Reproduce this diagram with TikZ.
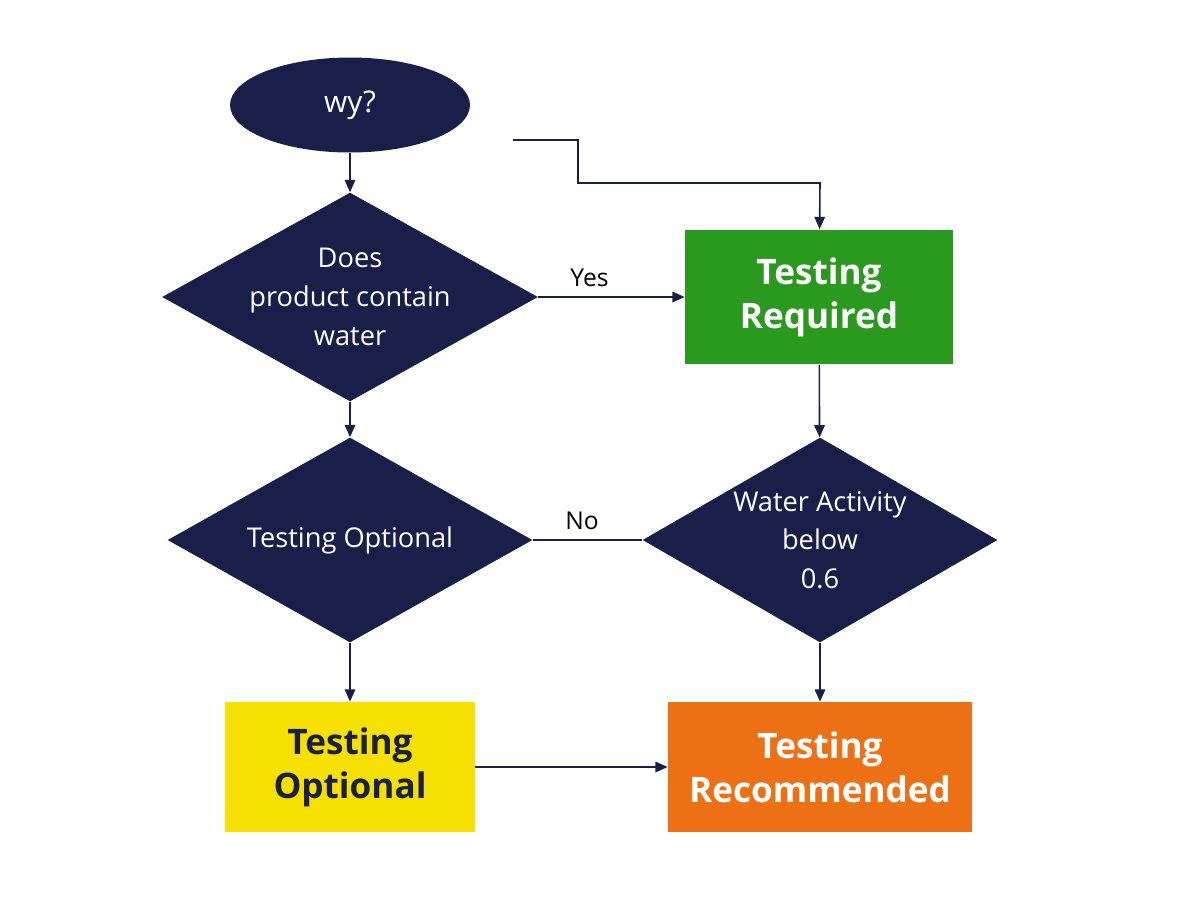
\documentclass[tikz,border=0pt]{standalone}
\usepackage{fontspec}
\setmainfont{Open Sans}
\usetikzlibrary{shapes.geometric}
\usetikzlibrary{arrows.meta}
\definecolor{navy}{HTML}{1A1F4A}
\definecolor{grn}{HTML}{2A9A1E}
\definecolor{yel}{HTML}{F5E000}
\definecolor{org}{HTML}{EE7014}
\tikzset{>={Triangle[length=7pt,width=6pt]}}
\tikzset{dec/.style={diamond, fill=navy, text=white, minimum width=7.3cm, minimum height=4.1cm, inner sep=0pt, aspect=1.8, align=center, font=\fontsize{15.5}{22}\selectfont}}
\tikzset{res/.style={rectangle, minimum height=2.6cm, align=center, font=\fontsize{20}{25}\selectfont\bfseries}}
\tikzset{ln/.style={draw=navy, line width=0.9pt}}
\tikzset{lbl/.style={font=\fontsize{14}{16}\selectfont, text=black}}

\begin{document}
\begin{tikzpicture}[x=0.02cm,y=-0.02cm]
\useasboundingbox (0,0) rectangle (1200,900);

%%% Left column

\node[ellipse, fill=navy, text=white, minimum width=4.8cm, minimum height=1.9cm, font=\fontsize{17}{20}\selectfont] (start) at (350,105) {wy?};
\node[dec] (water) at (350,297) {Does\\product contain\\water};
\node[dec] (opt) at (350,540) {Testing Optional};
\node[res, fill=yel, text=navy, minimum width=5cm] (yellow) at (350,767) {Testing\\Optional};

%%% Right column

\node[res, fill=grn, text=white, minimum width=5.36cm, minimum height=2.7cm] (req) at (819,297) {Testing\\Required};
\node[dec, minimum width=7.1cm] (aw) at (820,540) {Water Activity\\below\\0.6};
\node[res, fill=org, text=white, minimum width=6.08cm] (rec) at (820,767) {Testing\\Recommended};

\coordinate (loose) at (513,140);

%%% Connectors

\draw[ln,->] (start) -- (water);
\draw[ln,->] (water) -- (opt);
\draw[ln,->] (opt) -- (yellow);
\draw[ln,->] (water) -- node[lbl, above=2pt, pos=0.35] {Yes} (req);
\draw[ln,->] (req) -- (aw);
\draw[ln,->] (aw) -- (rec);
\draw[ln] (opt) -- node[lbl, above=2pt, pos=0.45] {No} (aw);
\draw[ln,->] (yellow) -- (rec);
\draw[ln,->] (loose) -- ++(65,0) |- (820,183) -- (req);

\end{tikzpicture}
\end{document}
